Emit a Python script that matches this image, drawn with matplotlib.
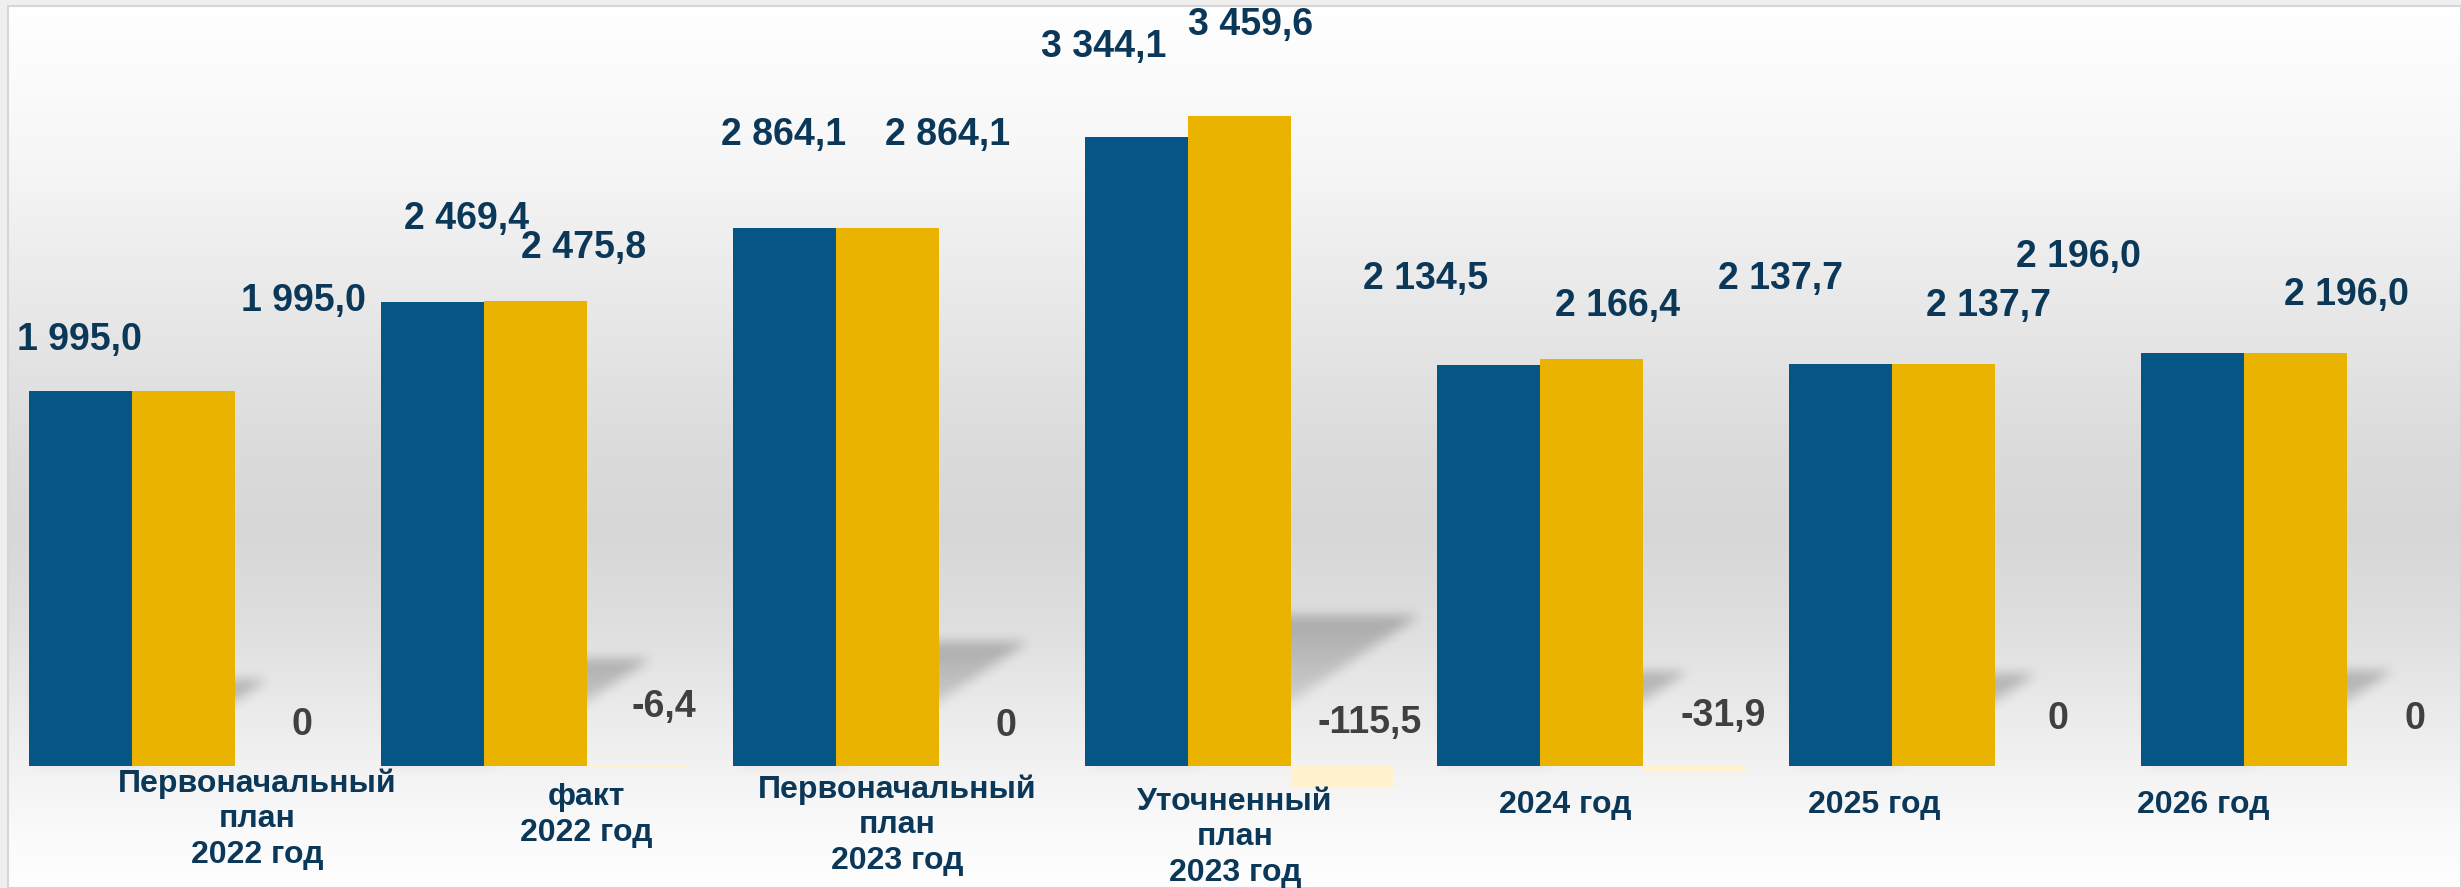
import numpy as np
import matplotlib
matplotlib.use("Agg")
import matplotlib.pyplot as plt
from matplotlib.path import Path
from matplotlib.patches import Rectangle

# ---------------- data ----------------
categories = ["Первоначальный\nплан\n2022 год", "факт\n2022 год",
              "Первоначальный\nплан\n2023 год", "Уточненный\nплан\n2023 год",
              "2024 год", "2025 год", "2026 год"]
revenue = [1995.0, 2469.4, 2864.1, 3344.1, 2134.5, 2137.7, 2196.0]
expenses = [1995.0, 2475.8, 2864.1, 3459.6, 2166.4, 2137.7, 2196.0]
deficit = [0.0, -6.4, 0.0, -115.5, -31.9, 0.0, 0.0]

# label offsets in pixels (dx, dy)
rev_off = [(-1.5, 51), (34, 83), (-1, 93), (-33, 90), (-63, 86), (-60, 85), (-114, 96)]
exp_off = [(120, 90), (48.5, 53), (60.5, 93), (11.5, 91), (26.5, 53), (45.5, 58), (50.5, 58)]
def_off = [(15, 41), (25, 59), (15, 40), (27, 43), (29, 50), (11, 47), (16, 47)]
# category labels: offset of the LAST line baseline from the bar base
cat_off = [(73.5, -97), (50.5, -75), (9.5, -103), (-4.5, -115), (-26.5, -47), (-69.5, -47), (-92.5, -47)]

BLUE = "#065587"
GOLD = "#E9B300"
PALE = "#FFF2CC"
NAVY = "#0B3859"
GREY_T = "#404040"

plt.rcParams['font.family'] = ['Liberation Sans', 'DejaVu Sans']

# ---------------- geometry ----------------
W_PX, H_PX = 2461, 888
X0_PX, STEP_PX, BASE_PX, SCALE = 183.5, 352.0, 766.0, 0.188
bw = 103.0 / STEP_PX

def px2x(px):
    return (px - X0_PX) / STEP_PX

def py2y(py):
    return (BASE_PX - py) / SCALE

fig = plt.figure(figsize=(W_PX / 100, H_PX / 100), dpi=100)
fig.patch.set_facecolor("#efefef")
ax = fig.add_axes([0, 0, 1, 1])
ax.set_xlim(px2x(0), px2x(W_PX))
ax.set_ylim(py2y(H_PX), py2y(0))
ax.axis('off')

# background gradient inside frame
FX0, FY0 = 8, 6
stops_y = np.array([FY0, 150, 300, 450, 530, 620, 700, 766, 830, H_PX])
stops_v = np.array([255, 247, 233, 219, 215, 222, 233, 242, 250, 254]) / 255.0
rows = np.arange(FY0, H_PX) + 0.5
g = np.interp(rows, stops_y, stops_v)
grad = np.repeat(g[:, None], 2, axis=1)
ax.imshow(np.dstack([grad, grad, grad]), extent=(px2x(FX0), px2x(W_PX), py2y(H_PX), py2y(FY0)),
          aspect='auto', origin='upper', zorder=0, interpolation='bilinear')
ax.add_patch(Rectangle((px2x(FX0), py2y(H_PX)), px2x(W_PX) - px2x(FX0), py2y(FY0) - py2y(H_PX),
                       fill=False, edgecolor="#d6d6d6", lw=1.5, zorder=0.5))

x = np.arange(len(categories))

# soft shadows behind the bars (derived from the bar heights)
def blur1d(a, r, axis):
    a = np.moveaxis(a, axis, -1)
    p = np.pad(a, ((0, 0), (r + 1, r)), mode='constant')
    c = np.cumsum(p, axis=-1)
    out = (c[:, 2 * r + 1:] - c[:, :-2 * r - 1]) / (2 * r + 1)
    return np.moveaxis(out, -1, axis)

alpha = np.zeros((H_PX, W_PX))
yy, xx = np.mgrid[0:H_PX, 0:W_PX]
for i, v in enumerate(expenses):
    gold_center_px = ax.transData.transform((x[i], 0))[0]
    gold_right = gold_center_px + 51.5
    blue_left = gold_right - 207
    xb = gold_right - 97
    hs = 0.23 * max(v, revenue[i]) * SCALE
    sh = 1.5 * hs
    poly = Path([(blue_left + 8, BASE_PX), (xb, BASE_PX), (xb + sh, BASE_PX - hs),
                 (blue_left + 8, BASE_PX - hs)])
    x_lo, x_hi = int(blue_left), int(xb + sh + 20)
    y_lo, y_hi = int(BASE_PX - hs - 20), int(BASE_PX + 5)
    sx = xx[y_lo:y_hi, x_lo:x_hi]
    sy = yy[y_lo:y_hi, x_lo:x_hi]
    inside = poly.contains_points(np.column_stack([sx.ravel() + 0.5, sy.ravel() + 0.5])).reshape(sx.shape)
    fade = 0.3 + 0.7 * np.clip((BASE_PX - sy) / hs, 0, 1) ** 1.5
    alpha[y_lo:y_hi, x_lo:x_hi] = np.maximum(alpha[y_lo:y_hi, x_lo:x_hi], inside * fade)
for _ in range(3):
    alpha = blur1d(alpha, 5, 0)
    alpha = blur1d(alpha, 5, 1)
shadow = np.zeros((H_PX, W_PX, 4))
shadow[..., 3] = np.clip(alpha, 0, 1) * 0.24
ax.imshow(shadow, extent=(px2x(0), px2x(W_PX), py2y(H_PX), py2y(0)), aspect='auto',
          origin='upper', zorder=1, interpolation='bilinear')

# bars
ax.bar(x - bw, revenue, width=bw, color=BLUE, zorder=3, linewidth=0)
ax.bar(x, expenses, width=bw, color=GOLD, zorder=3, linewidth=0)
ax.bar(x + bw, deficit, width=bw, color=PALE, zorder=3, linewidth=0)

def fmt(v):
    if v == 0:
        return "0"
    s = f"{abs(v):,.1f}".replace(",", " ").replace(".", ",")
    return ("-" if v < 0 else "") + s

FS_VAL = 27
FS_CAT = 23
for i in range(len(categories)):
    ax.annotate(fmt(revenue[i]), xy=(x[i] - bw, revenue[i]), xytext=rev_off[i],
                textcoords='offset pixels', ha='center', va='center',
                fontsize=FS_VAL, fontweight='bold', color=NAVY, zorder=5)
    ax.annotate(fmt(expenses[i]), xy=(x[i], expenses[i]), xytext=exp_off[i],
                textcoords='offset pixels', ha='center', va='center',
                fontsize=FS_VAL, fontweight='bold', color=NAVY, zorder=5)
    ax.annotate(fmt(deficit[i]), xy=(x[i] + bw, 0), xytext=def_off[i],
                textcoords='offset pixels', ha='center', va='center',
                fontsize=FS_VAL, fontweight='bold', color=GREY_T, zorder=5)
    ax.annotate(categories[i], xy=(x[i], 0), xytext=cat_off[i],
                textcoords='offset pixels', ha='center', va='baseline',
                multialignment='center', linespacing=1.25,
                fontsize=FS_CAT, fontweight='bold', color=NAVY, zorder=5)

fig.savefig("out.png", dpi=100, facecolor=fig.get_facecolor())
